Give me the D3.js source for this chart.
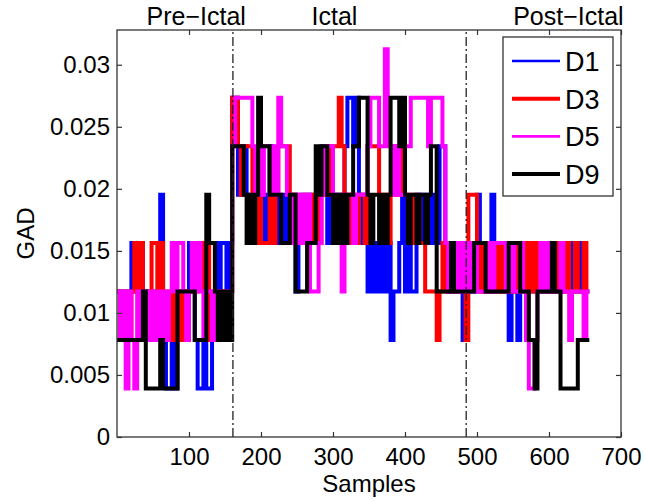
<!DOCTYPE html>
<html>
<head>
<meta charset="utf-8">
<script src="https://cdn.jsdelivr.net/npm/d3@7"></script>
<style>
  body { margin: 0; background: #fff; }
  text { font-family: Arial, "Liberation Sans", sans-serif; fill: #000; }
</style>
</head>
<body>
<svg></svg>
<script>
// GAD values are quantised: each level below is a multiple of gadStep
const gadStep = 1 / 256;
const sampleStep = 4; // samples covered by one entry

const seriesNames = ["D1", "D3", "D5", "D9"];

const d1Levels = [
  3,2,3,2,3,4,3,4,4,3, 2,3,2,3,2,5,2,1,1,2, 1,2,3,2,3,4,3,2,1,1, 2,1,1,2,4,3,4,4,3,4,
  7,7,5,5,6,5,4,5,4,5, 5,4,5,6,5,4,5,5,4,5, 4,5,3,4,5,4,5,5,4,5, 5,6,5,4,5,5,4,5,5,6,
  7,7,6,7,5,4,5,3,4,3, 4,3,4,3,4,2,3,3,4,5, 3,4,3,3,5,4,5,4,5,4, 5,4,6,6,4,3,4,3,4,3,
  2,4,3,4,3,5,4,3,4,3, 5,3,4,3,4,3,2,3,4,2, 3,4,3,4,3,3,4,3,3,4, 3,3,4,3,3,4,3,3,4,3,
  3,4,3,3
];
const d3Levels = [
  3,3,2,3,2,3,4,3,4,2, 3,2,4,4,3,4,2,3,2,3, 2,3,2,3,2,3,4,3,4,4, 3,4,2,3,2,3,2,3,2,3,
  7,7,6,5,6,6,6,4,4,5, 4,4,4,5,4,5,6,6,6,6, 5,4,5,4,4,5,5,4,5,5, 4,5,5,6,5,6,6,7,6,5,
  5,4,5,4,5,5,4,6,6,6, 6,5,4,5,4,5,6,5,5,6, 5,4,5,4,5,4,4,3,3,3, 3,2,3,4,3,4,3,4,3,4,
  3,2,5,5,5,4,3,4,3,4, 3,4,3,4,3,3,4,3,3,4, 3,4,3,4,3,4,3,4,3,4, 3,4,3,4,3,3,4,3,3,4,
  3,3,4,3
];
const d5Levels = [
  3,2,3,1,3,2,1,3,2,3, 3,2,3,2,3,2,3,2,3,4, 3,4,4,3,2,3,4,3,4,3, 2,3,3,2,3,2,3,3,2,3,
  6,7,7,7,7,7,7,6,5,6, 5,6,6,5,6,5,7,6,6,5, 5,4,5,4,5,4,5,3,3,3, 4,5,6,6,6,5,4,5,3,4,
  5,5,4,5,5,5,5,6,7,7, 7,6,6,8,6,6,5,6,5,5, 6,6,7,7,7,7,7,7,6,7, 7,7,7,6,4,3,4,3,4,3,
  4,3,4,3,4,3,3,3,3,4, 3,4,4,4,4,3,3,4,3,3, 4,3,2,1,1,2,3,4,3,4, 3,4,3,3,4,3,3,2,3,3,
  3,3,2,3
];
const d9Levels = [
  2,2,2,2,2,2,2,2,2,3, 1,1,1,1,1,2,1,1,1,1, 1,3,3,3,3,3,3,2,2,2, 2,5,4,4,3,2,3,2,3,2,
  6,6,6,6,5,4,5,4,5,7, 6,6,6,5,5,5,5,4,4,4, 5,5,3,3,3,3,4,4,4,6, 5,6,6,5,5,4,5,4,5,4,
  5,5,6,6,7,7,7,5,4,5, 5,4,5,4,5,7,7,7,6,7, 5,4,5,5,4,5,5,4,5,6, 6,3,3,3,3,3,4,3,3,3,
  3,3,3,3,4,4,4,4,3,3, 3,3,3,3,3,3,4,4,4,4, 3,3,3,2,2,1,3,3,3,3, 3,4,3,3,1,1,1,1,1,1,
  2,2,2,2
];

const xTicks = [100, 200, 300, 400, 500, 600, 700];
const yTicks = [0, 0.005, 0.01, 0.015, 0.02, 0.025, 0.03];
const yTickLabels = ["0", "0.005", "0.01", "0.015", "0.02", "0.025", "0.03"];

const phaseBounds = [161, 485];
const phaseLabels = ["Pre\u2212Ictal", "Ictal", "Post\u2212Ictal"];
const phaseLabelAt = [110, 302, 627];

const colors = ["#0000ff", "#ff0000", "#ff00ff", "#000000"];
const allLevels = [d1Levels, d3Levels, d5Levels, d9Levels];

const width = 645;
const height = 501;
const plotLeft = 117, plotRight = 621, plotTop = 30, plotBottom = 437;

const svg = d3.select("svg")
    .attr("width", width)
    .attr("height", height);

const xScale = d3.scaleLinear().domain([0, 700]).range([plotLeft, plotRight]);
const yScale = d3.scaleLinear().domain([0, 0.0328]).range([plotBottom, plotTop]);

const line = d3.line()
    .x(d => xScale(d[0]))
    .y(d => yScale(d[1] * gadStep))
    .curve(d3.curveStepAfter);

allLevels.forEach((levels, k) => {
    const pts = levels.map((v, i) => [i * sampleStep, v]);
    pts.push([levels.length * sampleStep, levels[levels.length - 1]]);
    svg.append("path")
        .datum(pts)
        .attr("d", line)
        .attr("fill", "none")
        .attr("stroke", colors[k])
        .attr("stroke-width", 4)
        .attr("stroke-linejoin", "miter");
});

// phase boundaries
svg.selectAll(".phase-line")
    .data(phaseBounds)
    .enter().append("line")
    .attr("x1", d => xScale(d))
    .attr("x2", d => xScale(d))
    .attr("y1", plotBottom)
    .attr("y2", plotTop)
    .attr("stroke", "#222")
    .attr("stroke-width", 1.3)
    .attr("stroke-dasharray", "9,3,2,3");

svg.selectAll(".phase-label")
    .data(phaseLabels)
    .enter().append("text")
    .attr("x", (d, i) => xScale(phaseLabelAt[i]))
    .attr("y", 25)
    .style("text-anchor", "middle")
    .style("font-size", "25px")
    .text(d => d);

// axes, ticks pointing inward
const axisColor = "#333";
function styleAxis(g) {
    g.select(".domain").remove();
    g.selectAll("line").attr("stroke", axisColor).attr("stroke-width", 1.2);
    g.selectAll("text").style("font-size", "24px").attr("fill", "#000");
}

svg.append("g")
    .attr("transform", `translate(0, ${plotBottom})`)
    .call(d3.axisBottom(xScale).tickValues(xTicks).tickSize(-5).tickPadding(11))
    .call(styleAxis);

svg.append("g")
    .attr("transform", `translate(0, ${plotTop})`)
    .call(d3.axisTop(xScale).tickValues(xTicks).tickSize(-5).tickFormat(""))
    .call(styleAxis);

svg.append("g")
    .attr("transform", `translate(${plotLeft}, 0)`)
    .call(d3.axisLeft(yScale).tickValues(yTicks).tickSize(-5).tickPadding(7)
        .tickFormat((d, i) => yTickLabels[i]))
    .call(styleAxis);

svg.append("g")
    .attr("transform", `translate(${plotRight}, 0)`)
    .call(d3.axisRight(yScale).tickValues(yTicks).tickSize(-5).tickFormat(""))
    .call(styleAxis);

svg.append("rect")
    .attr("x", plotLeft)
    .attr("y", plotTop)
    .attr("width", plotRight - plotLeft)
    .attr("height", plotBottom - plotTop)
    .attr("fill", "none")
    .attr("stroke", axisColor)
    .attr("stroke-width", 1.3);

svg.append("text")
    .attr("x", (plotLeft + plotRight) / 2)
    .attr("y", 492)
    .style("text-anchor", "middle")
    .style("font-size", "24px")
    .text("Samples");

svg.append("text")
    .attr("transform", "rotate(-90)")
    .attr("x", -(plotTop + plotBottom) / 2)
    .attr("y", 34)
    .style("text-anchor", "middle")
    .style("font-size", "24px")
    .text("GAD");

// legend
const legend = svg.append("g").attr("transform", "translate(503, 37)");
legend.append("rect")
    .attr("width", 110)
    .attr("height", 159)
    .attr("fill", "#fff")
    .attr("stroke", axisColor)
    .attr("stroke-width", 1.3);

const legendWidths = [2.7, 4, 2.7, 4];
const entry = legend.selectAll(".entry")
    .data(seriesNames)
    .enter().append("g")
    .attr("transform", (d, i) => `translate(0, ${24 + i * 37.7})`);
entry.append("line")
    .attr("x1", 9).attr("x2", 57)
    .attr("stroke", (d, i) => colors[i])
    .attr("stroke-width", (d, i) => legendWidths[i]);
entry.append("text")
    .attr("x", 62)
    .attr("y", 10)
    .style("font-size", "27px")
    .text(d => d);
</script>
</body>
</html>
